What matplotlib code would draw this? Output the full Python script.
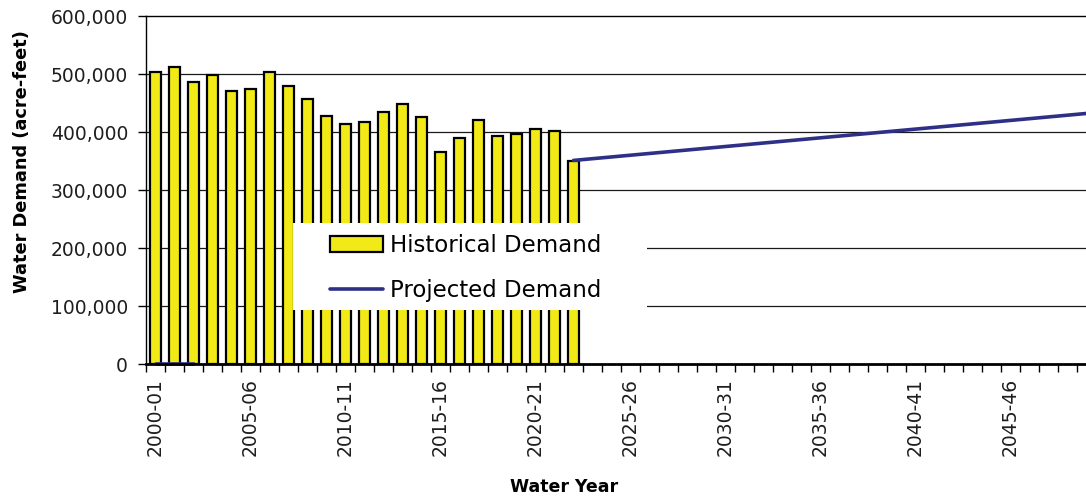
import matplotlib
matplotlib.use("Agg")
import matplotlib.pyplot as plt
from matplotlib.patches import Rectangle
from matplotlib.ticker import FuncFormatter, MultipleLocator

# water years on the x axis
water_years = [f"{y}-{str(y + 1)[-2:]}" for y in range(2000, 2050)]

# historical demand (acre-feet), 2000-01 .. 2022-23
hist_years = water_years[:23]
hist_demand = [504000, 512000, 486000, 498000, 471000, 474000, 504000, 479000,
               457000, 428000, 413000, 417000, 435000, 448000, 426000, 366000,
               389000, 420000, 393000, 397000, 406000, 402000, 350000]

# projected demand (acre-feet)
proj_years = ["2022-23", "2025-26", "2030-31", "2035-36", "2040-41", "2045-46", "2049-50"]
proj_demand = [351000, 360000, 375000, 390000, 405000, 420000, 432000]
# stray zero values at start of projected series
proj_stub_years = ["2000-01", "2001-02", "2002-03"]
proj_stub = [0, 0, 0]

bar_color = "#F2EA17"
line_color = "#2E3087"

pos = {lab: i for i, lab in enumerate(water_years)}

fig = plt.figure(figsize=(10.86, 4.99), dpi=100)
W, H = 1086, 499
ax = fig.add_axes([146 / W, 1 - 364 / H, 940 / W, 348 / H])

# gridlines
for v in range(100000, 600000, 100000):
    ax.axhline(v, color="#1a1a1a", lw=0.9, zorder=1)

bars = ax.bar([pos[y] for y in hist_years], hist_demand, width=0.62, color=bar_color,
              edgecolor="black", linewidth=1.6, zorder=2, label="Historical Demand")
line, = ax.plot([pos[y] for y in proj_years], proj_demand, color=line_color, lw=2.6,
                zorder=4, label="Projected Demand", solid_capstyle="round")
ax.plot([pos[y] for y in proj_stub_years], proj_stub, color=line_color, lw=2.6,
        zorder=4, solid_capstyle="round", clip_on=False)

ax.set_xlim(-0.5, 48.97)
ax.set_ylim(0, 600000)

ax.yaxis.set_major_locator(MultipleLocator(100000))
ax.yaxis.set_major_formatter(FuncFormatter(lambda v, p: f"{int(v):,}"))
ax.tick_params(axis="y", direction="out", length=6, width=1, pad=7,
               labelsize=13.5, colors="black", labelcolor="#1e1e1e")

ax.set_xticks(range(0, 50, 5))
ax.set_xticklabels(water_years[::5], rotation=90, fontsize=13.5, color="#1e1e1e")
ax.set_xticks([i - 0.5 for i in range(50)], minor=True)
ax.tick_params(axis="x", which="major", length=0, pad=10)
ax.tick_params(axis="x", which="minor", direction="out", length=6, width=1)

ax.spines["right"].set_visible(False)
ax.spines["top"].set_linewidth(1.0)
ax.spines["left"].set_linewidth(1.0)
ax.spines["bottom"].set_linewidth(2.0)
ax.spines["bottom"].set_zorder(5)

# white legend area
ax.add_patch(Rectangle(((293 - 146) / 940, (364 - 310) / 348), (647 - 293) / 940,
                       (310 - 223) / 348, transform=ax.transAxes,
                       facecolor="white", edgecolor="none", zorder=6))
leg = ax.legend(handles=[bars, line], loc="upper left",
                bbox_to_anchor=((330 - 146) / 940, (364 - 234) / 348),
                frameon=False, fontsize=16.5, borderpad=0, borderaxespad=0,
                handlelength=2.3, handletextpad=0.3, labelspacing=0.95)
leg.set_zorder(7)

fig.text(22 / W, 1 - 162 / H, "Water Demand (acre-feet)", rotation=90,
         ha="center", va="center", fontsize=12.8, fontweight="bold")
fig.text(564 / W, 1 - 487 / H, "Water Year", ha="center", va="center",
         fontsize=12.5, fontweight="bold")

fig.savefig("out.png", dpi=100)
